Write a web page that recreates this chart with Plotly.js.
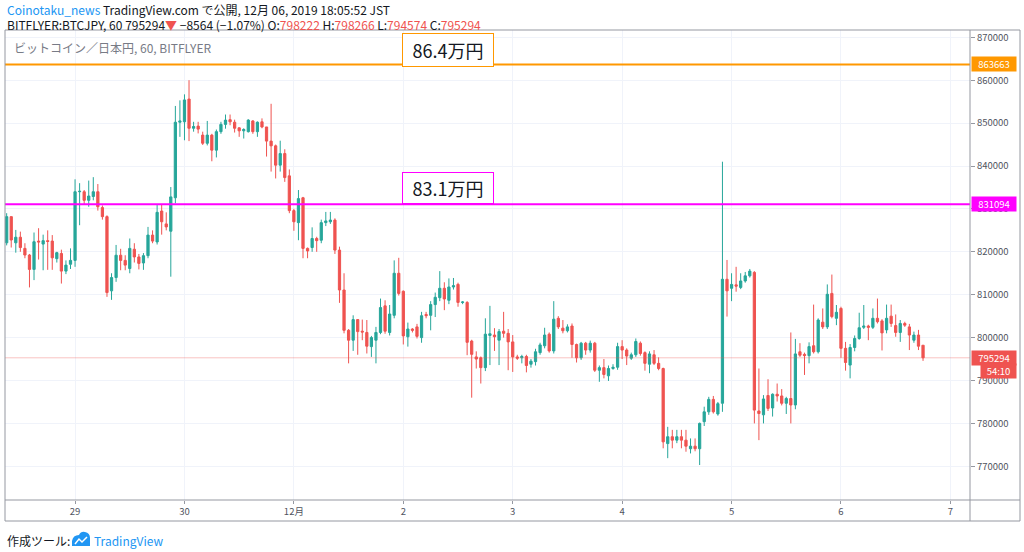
<!DOCTYPE html>
<html>
<head>
<meta charset="utf-8">
<script src="https://cdn.plot.ly/plotly-3.0.1.min.js"></script>
<style>
html,body{margin:0;padding:0;background:#fff;}
#chart{width:1024px;height:552px;}
</style>
</head>
<body>
<div id="chart"></div>
<script>
// Hourly BTC/JPY candles (bitFlyer, 60 min), first candle 2019-11-28 09:00
const startTime = '2019-11-28 09:00';
const openP = [
822100,828200,822100,823400,820800,819250,815900,822500,821800,822600,
822500,818400,819600,815500,817100,818000,834000,834000,832000,832900,
834000,830300,828200,810900,814000,819200,818000,816100,820600,818800,
817400,819100,823900,822300,829500,826500,824800,832600,850200,850300,
855600,848800,849300,847200,845300,847200,843700,848000,849700,850800,
850200,848900,848200,848000,850500,848000,850300,849100,845800,844700,
840200,842900,837700,829600,826800,832600,820800,821000,823100,822700,
826800,827000,827400,820400,811100,801700,799400,804200,801500,801200,
797900,799400,801200,807400,801200,805200,815000,810800,800200,802000,
802500,800000,805400,805200,807700,809300,811500,808700,811800,812400,
808200,808200,799200,795500,795300,793000,800500,800600,799400,801500,
801000,799000,795500,795300,795600,793800,794400,796500,798100,800800,
796900,804500,802200,801600,802700,798400,795300,798700,797100,798700,
792400,793000,791100,792800,793100,797900,797100,795200,796000,798700,
796500,793800,796000,794000,792800,775300,776900,776100,776900,776100,
774100,774700,774100,780400,782700,785600,782200,784700,813600,811500,
812300,811700,813200,814400,815200,782900,782000,786500,783600,786800,
786400,784700,785800,784300,796700,796100,795800,798100,796700,803600,
802500,810300,804500,806800,797500,793600,797700,799800,802400,802700,
802400,804500,803900,801800,805000,802800,801200,803300,802500,799400,
800600,798222
];
const highP = [
829000,828200,825100,824700,822000,819500,824500,825500,824000,825000,
823900,820000,820500,818000,820800,836900,836000,834400,836600,837400,
835800,830800,828500,815000,821600,820700,819200,823100,822000,819500,
819700,825800,825000,830900,831000,829200,835100,854000,855300,856700,
860000,850300,850300,848000,850500,847500,848500,850300,852000,852000,
850800,849000,848800,850900,850700,850400,851100,849100,854500,845000,
845900,843900,839200,830000,834400,832800,821000,825700,823500,827500,
829300,829300,827800,821200,815000,802000,805200,804300,804200,804100,
800400,802500,809100,808700,807600,818000,818600,811000,803500,802200,
803200,806000,806000,808500,810500,815500,812900,813800,813900,812800,
808500,808500,799500,796800,795600,804500,807400,802200,802000,806000,
802000,800600,796000,796000,796000,795000,797400,798800,802300,801200,
808500,805000,804100,803100,803300,798600,799000,799000,799300,799000,
793500,795000,793500,793800,798800,799400,797500,796500,799800,799100,
796800,796800,797100,795400,793000,779200,778500,778500,778500,778500,
776500,776500,780200,783900,786200,786400,785000,841000,818100,815000,
816500,815000,815300,816000,815500,792800,786600,790300,787000,789300,
788000,786200,801200,799700,798700,796500,798900,807700,804500,806800,
812400,814700,807600,807200,799000,798500,800500,805800,807600,803000,
806800,809100,804300,807700,807700,805400,804100,803700,803200,801400,
801800,798266
];
const lowP = [
821500,821000,819800,820000,818500,811700,813400,818200,815700,815800,
815800,817500,812600,814800,816000,816500,826200,831000,830500,832000,
829600,827500,809500,808800,813000,815700,815700,815000,817500,815900,
815800,818500,822000,821700,824000,825000,814200,831300,846800,846000,
845800,848000,847600,844900,844800,841100,842000,847500,848700,849500,
847800,846800,846400,847800,847500,846800,848800,842200,838700,837100,
838700,836300,829000,824900,822700,818500,818500,820000,820000,822000,
826000,826500,819500,808100,801000,794000,796900,796000,799400,796300,
795500,794000,800800,800900,800500,804500,809800,798400,797900,801200,
799800,798800,804500,801700,804800,808500,806400,807800,811200,807200,
807800,795900,786000,792800,789300,792200,793600,796900,793600,800000,
792400,792000,794800,794000,791900,793000,793500,796000,797500,796500,
796300,802000,801000,801200,795300,794200,794800,796000,796500,792000,
789700,790500,789900,792500,792500,795000,793600,794800,795500,795800,
792300,791700,793600,792400,774200,771900,774200,775400,774200,773400,
773000,773500,770300,779400,782000,782300,781800,782700,804900,808500,
810700,811300,812800,814000,780000,776100,780000,782900,781600,785100,
784200,782200,780000,783300,795500,791300,794000,796300,796300,802000,
802000,804500,802900,795300,792300,790500,796800,799500,802000,799400,
802000,803300,797000,801000,802500,800200,799000,802500,797100,798800,
797100,794574
];
const closeP = [
828200,822750,823400,821000,819250,815900,822350,822300,822600,822400,
818600,819800,815500,816900,818000,834000,834100,832000,833000,834000,
830500,828200,810500,814000,819200,818000,816900,820800,818800,817300,
819100,823900,822500,829200,827000,825800,832800,850200,850500,855400,
848800,849200,848600,845300,847200,843700,848000,849700,850700,850300,
848800,848200,848500,850700,848000,850200,849100,845800,844700,840200,
842900,837300,829600,827000,832400,820800,820200,823100,822600,826800,
827200,827400,820400,811100,801700,799400,804200,801400,801300,798000,
800000,801200,807000,801500,805500,815000,810300,800400,802000,801700,
800300,805100,805100,807700,809400,811500,809000,811800,812100,808200,
808300,798900,796100,795000,793000,800800,800900,800200,801400,801000,
799000,795500,795200,795600,793500,794500,796700,798300,800600,796900,
804300,802500,801600,802500,798400,795300,798700,797100,798700,792400,
793000,791400,792800,793100,797900,797100,795700,796000,799100,796300,
794000,796200,794000,792800,775700,776900,776100,776900,776100,774700,
774700,774100,780000,782700,785600,782700,784600,813600,810900,812400,
812000,813200,814400,815500,783100,782300,785700,783500,786800,786400,
784700,785800,784300,796200,795900,795800,797900,796700,804100,802500,
810100,804900,805900,797500,794200,797700,799800,802300,802700,802400,
804500,803700,801100,804500,803300,801200,803300,802900,800600,800600,
798000,795294
];
// day ticks on the time axis
const tickDates = ['2019-11-29','2019-11-30','2019-12-01','2019-12-02','2019-12-03','2019-12-04','2019-12-05','2019-12-06','2019-12-07'];
const tickLabels = ['29','30','12月','2','3','4','5','6','7'];
// reference levels
const levelHigh = 863663;
const levelMid = 831094;
const lastPrice = 795294;
const levelHighText = '86.4万円';
const levelMidText = '83.1万円';

// build hourly timestamps
function fmt(d){return d.toISOString().slice(0,16).replace('T',' ');}
const t0 = new Date(startTime.replace(' ','T')+':00Z');
const times = openP.map((_,i)=>fmt(new Date(t0.getTime()+i*3600000)));

const UP = '#26a69a', DOWN = '#ef5350';
const trace = {
  type:'candlestick', x:times, open:openP, high:highP, low:lowP, close:closeP,
  increasing:{line:{color:UP,width:1},fillcolor:UP},
  decreasing:{line:{color:DOWN,width:1},fillcolor:DOWN},
  whiskerwidth:0, hoverinfo:'skip', showlegend:false
};

const frame = '#9598a1';
const PW = 965, PH = 470; // plot size in px
const px = x => (x-5)/PW;          // page x -> paper
const py = y => (500-y)/PH;        // page y -> paper
const FONT = '"Noto Sans CJK JP", "Noto Sans", sans-serif';

const shapes = [
  {type:'line',xref:'paper',yref:'y',x0:0,x1:1,y0:levelHigh,y1:levelHigh,line:{color:'#ff9800',width:2}},
  {type:'line',xref:'paper',yref:'y',x0:0,x1:1,y0:levelMid,y1:levelMid,line:{color:'#ff00ff',width:2}},
  {type:'line',xref:'paper',yref:'y',x0:0,x1:1,y0:lastPrice,y1:lastPrice,line:{color:'rgba(239,83,80,0.35)',width:1}},
  // frame
  {type:'line',xref:'paper',yref:'paper',x0:0,x1:px(1020),y0:1,y1:1,line:{color:frame,width:1}},
  {type:'line',xref:'paper',yref:'paper',x0:0,x1:0,y0:1,y1:py(521),line:{color:frame,width:1}},
  {type:'line',xref:'paper',yref:'paper',x0:px(1020),x1:px(1020),y0:1,y1:py(521),line:{color:frame,width:1}},
  {type:'line',xref:'paper',yref:'paper',x0:0,x1:px(1020),y0:py(521),y1:py(521),line:{color:frame,width:1}},
  {type:'line',xref:'paper',yref:'paper',x0:1,x1:1,y0:1,y1:py(521),line:{color:frame,width:1}},
  {type:'line',xref:'paper',yref:'paper',x0:0,x1:px(1020),y0:0,y1:0,line:{color:frame,width:1}},
  // TradingView logo (approximation)
  {type:'path',xref:'paper',yref:'paper',xsizemode:'pixel',ysizemode:'pixel',xanchor:px(72),yanchor:py(546),
   path:'M0,0 L0,5 Q1,11 7,11 Q9,15 13,14 Q18,13 18,8 L18,0 Z',fillcolor:'#2196f3',line:{width:0}},
  {type:'path',xref:'paper',yref:'paper',xsizemode:'pixel',ysizemode:'pixel',xanchor:px(72),yanchor:py(546),
   path:'M3,2 L7,7 L10,4 L15,9',fillcolor:'rgba(0,0,0,0)',line:{color:'#ffffff',width:1.5}}
];

const annotations = [
  {xref:'paper',yref:'paper',x:0,y:py(10),xanchor:'left',yanchor:'middle',showarrow:false,
   text:'<span style="color:#2196f3">Coinotaku_news</span> TradingView.com で公開, 12月 06, 2019 18:05:52 JST',
   font:{family:FONT,size:12,color:'#131722'}},
  {xref:'paper',yref:'paper',x:0,y:py(24.5),xanchor:'left',yanchor:'middle',showarrow:false,
   text:'BITFLYER:BTCJPY, 60 795294<span style="color:#ef5350">▼</span> −8564 (−1.07%) O:<span style="color:#ef5350">798222</span> H:<span style="color:#ef5350">798266</span> L:<span style="color:#ef5350">794574</span> C:<span style="color:#ef5350">795294</span>',
   font:{family:FONT,size:12,color:'#131722'}},
  {xref:'paper',yref:'paper',x:px(12),y:py(47),xanchor:'left',yanchor:'middle',showarrow:false,
   text:'ビットコイン／日本円, 60, BITFLYER',font:{family:FONT,size:12,color:'#787b86'}},
  {xref:'paper',yref:'paper',x:px(448),y:py(49.5),xanchor:'center',yanchor:'middle',showarrow:false,
   text:levelHighText,font:{family:FONT,size:18,color:'#131722'},bgcolor:'#ffffff',
   bordercolor:'#ff9800',borderwidth:1,width:88,height:30,borderpad:1},
  {xref:'paper',yref:'paper',x:px(448),y:py(188),xanchor:'center',yanchor:'middle',showarrow:false,
   text:levelMidText,font:{family:FONT,size:18,color:'#131722'},bgcolor:'#ffffff',
   bordercolor:'#ff00ff',borderwidth:1,width:88,height:28,borderpad:1},
  {xref:'paper',yref:'y',x:1,y:levelHigh,xanchor:'left',yanchor:'middle',xshift:1,showarrow:false,
   text:String(levelHigh),font:{family:FONT,size:9.5,color:'#ffffff'},bgcolor:'#ff9800',width:42,height:12},
  {xref:'paper',yref:'y',x:1,y:levelMid,xanchor:'left',yanchor:'middle',xshift:1,showarrow:false,
   text:String(levelMid),font:{family:FONT,size:9.5,color:'#ffffff'},bgcolor:'#ff00ff',width:42,height:12},
  {xref:'paper',yref:'y',x:1,y:lastPrice,xanchor:'left',yanchor:'middle',xshift:1,showarrow:false,
   text:String(lastPrice),font:{family:FONT,size:9.5,color:'#ffffff'},bgcolor:'#ef5350',width:42,height:12},
  {xref:'paper',yref:'paper',x:px(980),y:py(371),xanchor:'left',yanchor:'middle',showarrow:false,
   text:'54:10',font:{family:FONT,size:9.5,color:'#ffffff'},bgcolor:'#ef5350',width:33,height:12},
  {xref:'paper',yref:'paper',x:0,y:py(540),xanchor:'left',yanchor:'middle',showarrow:false,
   text:'作成ツール:',font:{family:FONT,size:12,color:'#131722'}},
  {xref:'paper',yref:'paper',x:px(92),y:py(540),xanchor:'left',yanchor:'middle',showarrow:false,
   text:'TradingView',font:{family:FONT,size:12,color:'#2196f3'}}
];

const layout = {
  width:1024, height:552,
  margin:{l:5,r:54,t:30,b:52,pad:0},
  paper_bgcolor:'#ffffff', plot_bgcolor:'#ffffff',
  font:{family:FONT,color:'#50535e'},
  showlegend:false,
  xaxis:{type:'date',range:['2019-11-28 08:38','2019-12-07 04:18'],
    tickvals:tickDates,ticktext:tickLabels,tickfont:{size:9.5,color:'#50535e'},
    ticks:'outside',ticklen:3,tickcolor:frame,
    showgrid:true,gridcolor:'#f0f3fa',gridwidth:1,zeroline:false,
    showline:false,rangeslider:{visible:false},fixedrange:true},
  yaxis:{side:'right',range:[762150,871700],tick0:770000,dtick:10000,
    tickformat:'d',tickfont:{size:9.5,color:'#50535e'},
    ticks:'outside',ticklen:4,tickcolor:frame,
    showgrid:true,gridcolor:'#f0f3fa',gridwidth:1,zeroline:false,showline:false,fixedrange:true},
  shapes:shapes,
  annotations:annotations
};

Plotly.newPlot('chart',[trace],layout,{displayModeBar:false,staticPlot:true});
</script>
</body>
</html>
